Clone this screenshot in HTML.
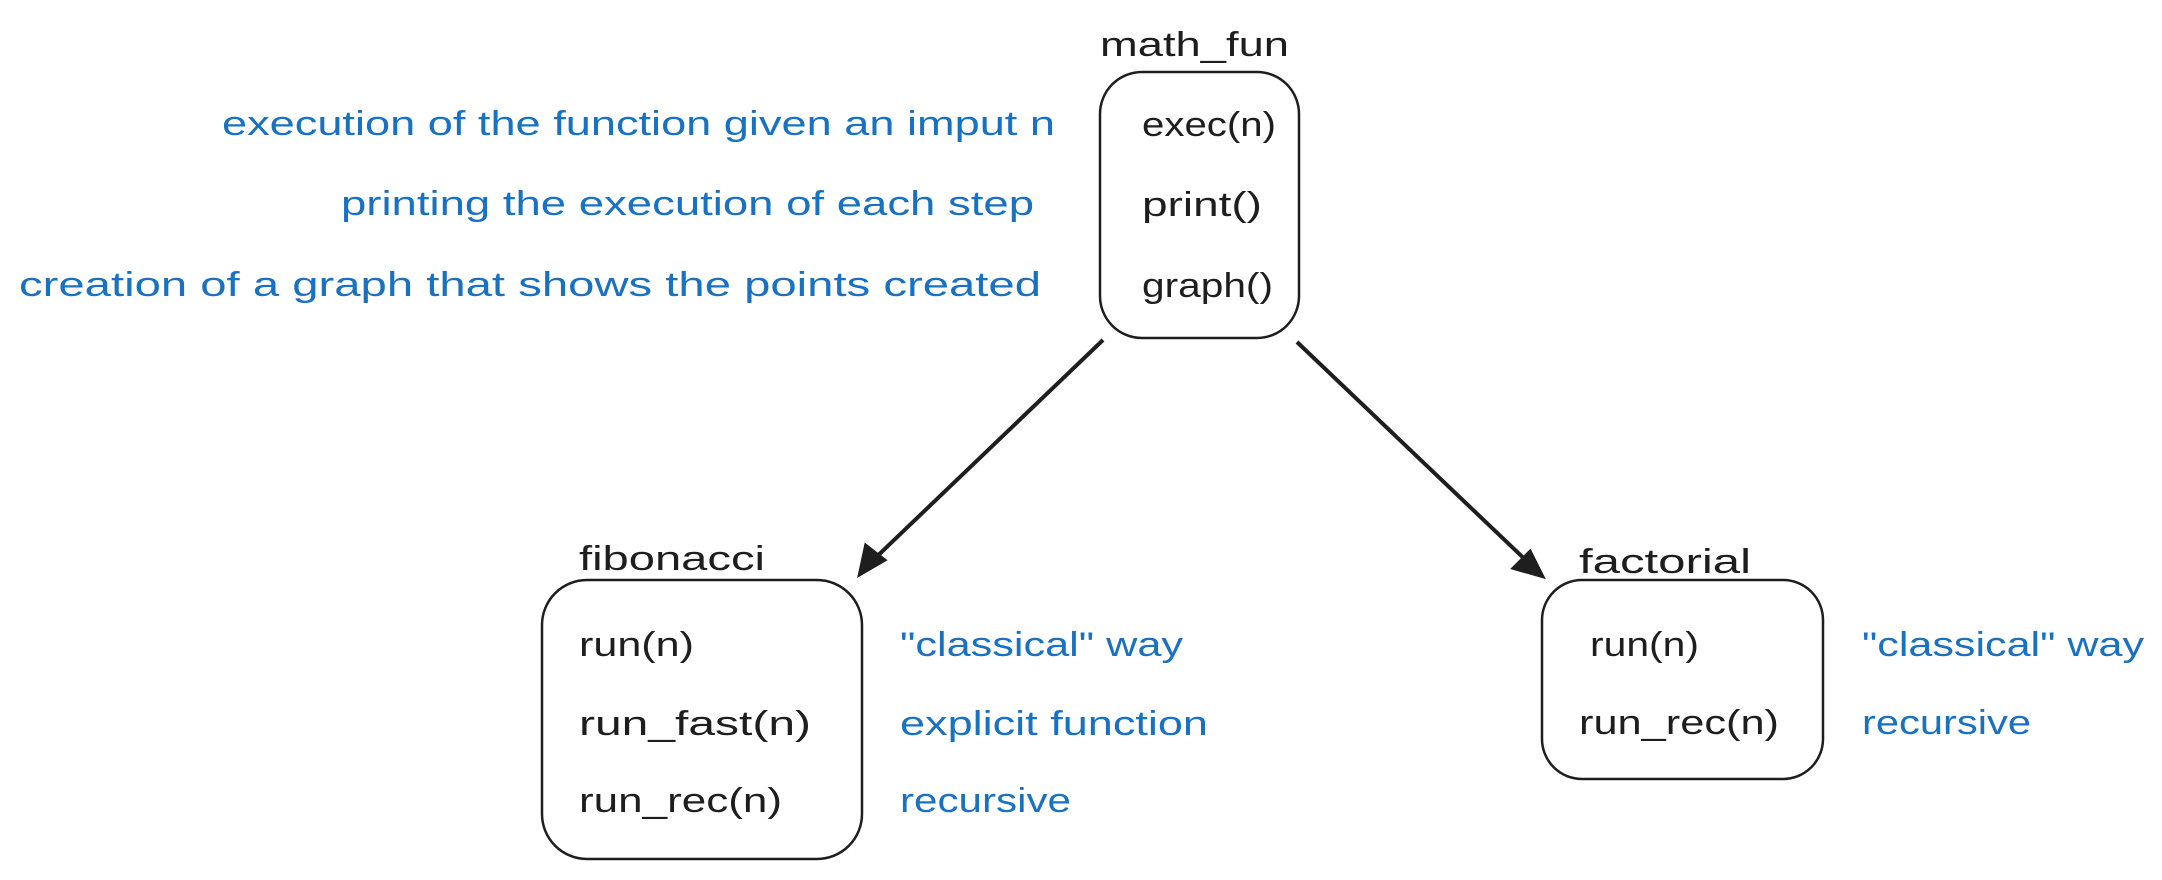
<!DOCTYPE html>
<html><head><meta charset="utf-8"><style>
html,body{margin:0;padding:0;background:#fff;}
svg{display:block}
text{font-family:"Liberation Sans",sans-serif;font-size:34px;}
.b{fill:#1e1e1e}.u{fill:#1971c2}
</style></head><body>
<svg width="2162" height="880" viewBox="0 0 2162 880" xmlns="http://www.w3.org/2000/svg">
<g fill="none" stroke="#1e1e1e" stroke-width="2.5">
<rect x="1100" y="72" width="199" height="266" rx="42"/>
<rect x="542" y="580" width="320" height="279" rx="45"/>
<rect x="1542" y="580" width="281" height="199" rx="40"/>
</g>
<g stroke="#1e1e1e" stroke-width="4" fill="#1e1e1e">
<line x1="1103" y1="340" x2="868" y2="565"/>
<polygon points="860,574 866,546 884,560" />
<line x1="1297" y1="342" x2="1534" y2="568"/>
<polygon points="1542,576 1514,568 1530,552" />
</g>
<g class="b">
<text x="1100" y="56" textLength="189" lengthAdjust="spacingAndGlyphs">math_fun</text>
<text x="1142" y="136" textLength="134" lengthAdjust="spacingAndGlyphs">exec(n)</text>
<text x="1142" y="216" textLength="120" lengthAdjust="spacingAndGlyphs">print()</text>
<text x="1142" y="297" textLength="131" lengthAdjust="spacingAndGlyphs">graph()</text>
<text x="579" y="570" textLength="186" lengthAdjust="spacingAndGlyphs">fibonacci</text>
<text x="579" y="656" textLength="115" lengthAdjust="spacingAndGlyphs">run(n)</text>
<text x="579" y="735" textLength="232" lengthAdjust="spacingAndGlyphs">run_fast(n)</text>
<text x="579" y="812" textLength="203" lengthAdjust="spacingAndGlyphs">run_rec(n)</text>
<text x="1579" y="573" textLength="172" lengthAdjust="spacingAndGlyphs">factorial</text>
<text x="1590" y="656" textLength="109" lengthAdjust="spacingAndGlyphs">run(n)</text>
<text x="1579" y="734" textLength="200" lengthAdjust="spacingAndGlyphs">run_rec(n)</text>
</g>
<g class="u">
<text x="222" y="135" textLength="833" lengthAdjust="spacingAndGlyphs">execution of the function given an imput n</text>
<text x="341" y="215" textLength="693" lengthAdjust="spacingAndGlyphs">printing the execution of each step</text>
<text x="19" y="296" textLength="1022" lengthAdjust="spacingAndGlyphs">creation of a graph that shows the points created</text>
<text x="900" y="656" textLength="283" lengthAdjust="spacingAndGlyphs">"classical" way</text>
<text x="900" y="735" textLength="308" lengthAdjust="spacingAndGlyphs">explicit function</text>
<text x="900" y="812" textLength="171" lengthAdjust="spacingAndGlyphs">recursive</text>
<text x="1862" y="656" textLength="282" lengthAdjust="spacingAndGlyphs">"classical" way</text>
<text x="1862" y="734" textLength="169" lengthAdjust="spacingAndGlyphs">recursive</text>
</g>
</svg>
</body></html>
